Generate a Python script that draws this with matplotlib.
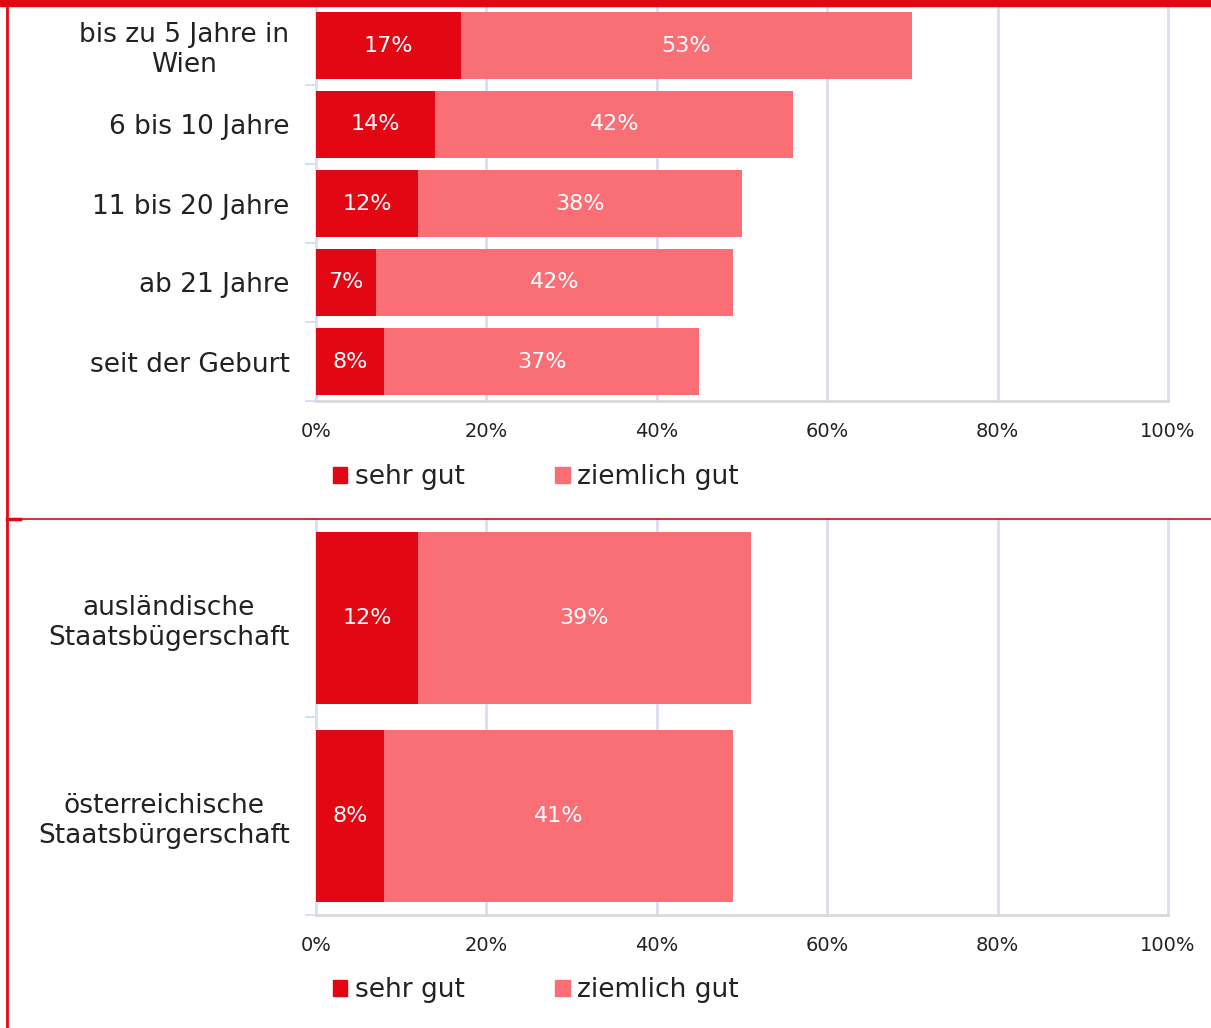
import matplotlib
matplotlib.use('Agg')
import matplotlib.pyplot as plt
from matplotlib.patches import Rectangle
from matplotlib.lines import Line2D
import numpy as np

dark_red = '#E30613'
light_red = '#FA6E76'
grid_color = '#D9DEF2'
spine_color = '#D9D9D9'

duration_labels = ['bis zu 5 Jahre in\nWien', '6 bis 10 Jahre', '11 bis 20 Jahre', 'ab 21 Jahre', 'seit der Geburt']
duration_sehr = [17, 14, 12, 7, 8]
duration_ziemlich = [53, 42, 38, 42, 37]

citizen_labels = ['ausländische\nStaatsbügerschaft', 'österreichische\nStaatsbürgerschaft']
citizen_sehr = [12, 8]
citizen_ziemlich = [39, 41]

x_ticks = [0, 20, 40, 60, 80, 100]
legend_labels = ['sehr gut', 'ziemlich gut']

plt.rcParams['font.family'] = ['DejaVu Sans']

W, H = 1211, 1028
fig = plt.figure(figsize=(W / 100, H / 100), dpi=100)


def px_box(left, top, right, bottom):
    return [left / W, 1 - bottom / H, (right - left) / W, (bottom - top) / H]


def draw_panel(ax, labels, sehr, ziemlich, bar_height):
    n = len(labels)
    y = np.arange(n)
    ax.barh(y, sehr, height=bar_height, color=dark_red, zorder=3)
    ax.barh(y, ziemlich, left=sehr, height=bar_height, color=light_red, zorder=3)
    for yi, a, b in zip(y, sehr, ziemlich):
        ax.text(a / 2, yi, f'{a}%', ha='center', va='center', color='white', fontsize=16, zorder=4)
        ax.text(a + b / 2, yi, f'{b}%', ha='center', va='center', color='white', fontsize=16, zorder=4)
    ax.set_xlim(0, 100)
    ax.set_ylim(n - 0.5, -0.5)
    ax.set_xticks(x_ticks)
    ax.set_xticklabels([f'{t}%' for t in x_ticks], fontsize=14, color='#222222')
    ax.set_yticks(y)
    ax.set_yticklabels(labels, fontsize=19, color='#222222', multialignment='center')
    ax.set_yticks(np.arange(n + 1) - 0.5, minor=True)
    ax.tick_params(axis='y', which='major', length=0, pad=19)
    ax.tick_params(axis='y', which='minor', length=8, width=1.5, color=grid_color)
    ax.tick_params(axis='x', length=0, pad=15)
    for t in x_ticks[1:]:
        ax.axvline(t, color=grid_color, linewidth=2, zorder=0, clip_on=False)
    for side in ['top', 'right']:
        ax.spines[side].set_visible(False)
    ax.spines['left'].set_color(grid_color)
    ax.spines['left'].set_linewidth(2)
    ax.spines['bottom'].set_color(spine_color)
    ax.spines['bottom'].set_linewidth(2)
    ax.set_axisbelow(True)


ax1 = fig.add_axes(px_box(316, 6, 1168, 401))
draw_panel(ax1, duration_labels, duration_sehr, duration_ziemlich, 0.86)
ax2 = fig.add_axes(px_box(316, 519, 1168, 915))
draw_panel(ax2, citizen_labels, citizen_sehr, citizen_ziemlich, 0.87)

handles = [Rectangle((0, 0), 1, 1, color=dark_red), Rectangle((0, 0), 1, 1, color=light_red)]
for y_px in [477, 990]:
    fig.legend(handles, legend_labels, loc='center', bbox_to_anchor=(536 / W, 1 - y_px / H),
               ncol=2, frameon=False, fontsize=19, handlelength=0.55, handleheight=0.55,
               handletextpad=0.3, columnspacing=3.4, labelcolor='#222222')

# red frame elements
fig.patches.append(Rectangle((0, 1 - 6 / H), 1, 6 / H, transform=fig.transFigure,
                             color=dark_red, zorder=10))
fig.lines.append(Line2D([7 / W, 7 / W], [0, 1], transform=fig.transFigure,
                        color=dark_red, linewidth=2, zorder=10))
fig.lines.append(Line2D([7 / W, 1], [1 - 519 / H, 1 - 519 / H], transform=fig.transFigure,
                        color='#C8101E', linewidth=1.2, zorder=10))
fig.lines.append(Line2D([7 / W, 20 / W], [1 - 519 / H, 1 - 519 / H], transform=fig.transFigure,
                        color=dark_red, linewidth=2.5, zorder=10))

fig.savefig('out.png', dpi=100)
